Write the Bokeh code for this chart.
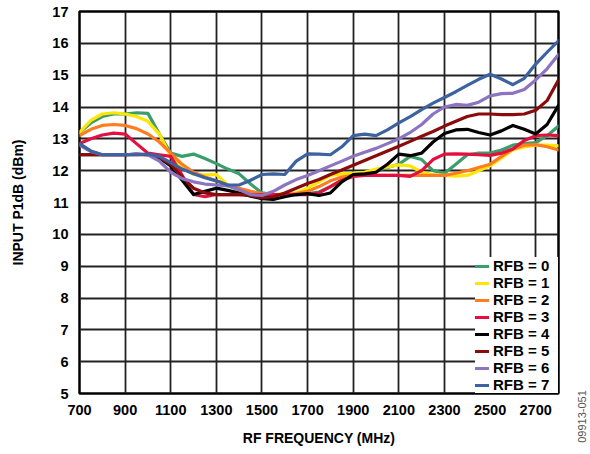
import math
from bokeh.plotting import figure
from bokeh.models import FixedTicker, Range1d, Legend, LegendItem, Label
from bokeh.embed import file_html
from bokeh.resources import INLINE

freq = [700, 750, 800, 850, 900, 950, 1000, 1050, 1100, 1150, 1200, 1250, 1300, 1350,
        1400, 1450, 1500, 1550, 1600, 1650, 1700, 1750, 1800, 1850, 1900, 1950, 2000,
        2050, 2100, 2150, 2200, 2250, 2300, 2350, 2400, 2450, 2500, 2550, 2600, 2650,
        2700, 2750, 2800]

rfb0 = [13.2, 13.5, 13.7, 13.78, 13.78, 13.82, 13.8, 13.15, 12.55, 12.45, 12.52, 12.38, 12.22, 12.05,
        11.9, 11.58, 11.3, 11.25, 11.25, 11.25, 11.28, 11.33, 11.5, 11.7, 11.85, 11.93, 12.0,
        12.1, 12.2, 12.45, 12.35, 12.0, 11.92, 12.2, 12.5, 12.55, 12.55, 12.65, 12.8, 12.85,
        12.88, 13.1, 13.4]
rfb1 = [13.2, 13.58, 13.78, 13.82, 13.78, 13.7, 13.55, 13.15, 12.45, 12.1, 11.88, 11.87, 11.88, 11.55,
        11.38, 11.28, 11.25, 11.25, 11.28, 11.3, 11.45, 11.65, 11.85, 11.9, 11.92, 11.95, 12.05,
        12.12, 12.18, 12.15, 11.95, 11.88, 11.85, 11.83, 11.85, 12.0, 12.15, 12.4, 12.65, 12.75,
        12.8, 12.8, 12.78]
rfb2 = [13.1, 13.3, 13.42, 13.45, 13.42, 13.32, 13.15, 12.9, 12.55, 12.2, 11.95, 11.8, 11.68, 11.55,
        11.45, 11.35, 11.28, 11.25, 11.25, 11.28, 11.35, 11.5, 11.68, 11.8, 11.85, 11.85, 11.85,
        11.85, 11.85, 11.85, 11.85, 11.85, 11.85, 11.92, 12.0, 12.1, 12.2, 12.45, 12.68, 12.8,
        12.82, 12.75, 12.65]
rfb3 = [12.85, 13.0, 13.12, 13.18, 13.15, 12.85, 12.55, 12.5, 12.45, 11.85, 11.25, 11.18, 11.25, 11.25,
        11.25, 11.25, 11.25, 11.25, 11.25, 11.25, 11.25, 11.3, 11.5, 11.7, 11.82, 11.85, 11.85,
        11.85, 11.85, 11.82, 12.0, 12.35, 12.52, 12.53, 12.52, 12.5, 12.48, 12.55, 12.68, 12.95,
        13.1, 13.12, 13.1]
rfb4 = [12.5, 12.5, 12.5, 12.5, 12.5, 12.52, 12.5, 12.4, 12.15, 11.7, 11.25, 11.35, 11.45, 11.38,
        11.3, 11.2, 11.12, 11.1, 11.18, 11.25, 11.28, 11.22, 11.3, 11.65, 11.88, 11.9, 11.95,
        12.2, 12.52, 12.47, 12.55, 12.9, 13.17, 13.28, 13.3, 13.2, 13.12, 13.25, 13.42, 13.3,
        13.15, 13.45, 14.05]
rfb5 = [12.5, 12.5, 12.5, 12.5, 12.5, 12.5, 12.5, 12.42, 12.2, 11.8, 11.45, 11.3, 11.25, 11.25,
        11.25, 11.22, 11.15, 11.18, 11.3, 11.45, 11.6, 11.72, 11.88, 12.02, 12.17, 12.32, 12.47,
        12.62, 12.77, 12.92, 13.08, 13.23, 13.4, 13.55, 13.7, 13.78, 13.78, 13.76, 13.76, 13.78,
        13.9, 14.2, 14.85]
rfb6 = [12.8, 12.6, 12.5, 12.5, 12.5, 12.52, 12.5, 12.3, 11.95, 11.75, 11.65, 11.58, 11.55, 11.52,
        11.4, 11.25, 11.22, 11.35, 11.55, 11.72, 11.85, 12.0, 12.15, 12.3, 12.45, 12.58, 12.7,
        12.85, 13.0, 13.2, 13.45, 13.78, 14.0, 14.08, 14.05, 14.15, 14.35, 14.42, 14.43, 14.55,
        14.85, 15.2, 15.65]
rfb7 = [12.85, 12.62, 12.5, 12.5, 12.5, 12.5, 12.52, 12.45, 12.25, 12.05, 11.9, 11.78, 11.68, 11.55,
        11.55, 11.7, 11.88, 11.9, 11.88, 12.3, 12.53, 12.52, 12.5, 12.75, 13.1, 13.15, 13.1,
        13.28, 13.5, 13.7, 13.92, 14.12, 14.3, 14.48, 14.68, 14.87, 15.03, 14.88, 14.7, 14.9,
        15.35, 15.72, 16.08]

series_labels = ["RFB = 0", "RFB = 1", "RFB = 2", "RFB = 3", "RFB = 4", "RFB = 5", "RFB = 6", "RFB = 7"]
series_values = [rfb0, rfb1, rfb2, rfb3, rfb4, rfb5, rfb6, rfb7]
colors = ["#399E6A", "#FFE600", "#FF7C1F", "#E3103F", "#000000", "#8A0B0B", "#8C74C0", "#3D62A0"]

x_ticks = [700, 900, 1100, 1300, 1500, 1700, 1900, 2100, 2300, 2500, 2700]
y_ticks = list(range(5, 18))
figure_id = "09913-051"

FONT = "Liberation Sans"

p = figure(width=590, height=450, output_backend="svg", toolbar_location=None,
           x_range=Range1d(700, 2800), y_range=Range1d(5, 17),
           min_border_left=79, min_border_right=32, min_border_top=11, min_border_bottom=57)

p.background_fill_color = "white"
p.border_fill_color = "white"
p.outline_line_color = "black"
p.outline_line_width = 2.5

for ax, ticks in ((p.xaxis, x_ticks), (p.yaxis, y_ticks)):
    ax.ticker = FixedTicker(ticks=ticks)
    ax.major_tick_in = 0
    ax.major_tick_out = 0
    ax.minor_tick_in = 0
    ax.minor_tick_out = 0
    ax.axis_line_color = None
    ax.major_label_text_font = FONT
    ax.major_label_text_font_style = "bold"
    ax.major_label_text_font_size = "14.5px"
    ax.major_label_text_color = "black"
    ax.axis_label_text_font = FONT
    ax.axis_label_text_font_style = "bold"
    ax.axis_label_text_font_size = "14px"
    ax.axis_label_text_color = "black"

p.xaxis.axis_label = "RF FREQUENCY (MHz)"
p.yaxis.axis_label = "INPUT P1dB (dBm)"
p.xaxis.major_label_standoff = 11
p.xaxis.axis_label_standoff = 12
p.yaxis.major_label_standoff = 11
p.yaxis.axis_label_standoff = 23

p.xgrid.ticker = FixedTicker(ticks=x_ticks)
p.ygrid.ticker = FixedTicker(ticks=y_ticks)
for g in (p.xgrid, p.ygrid):
    g.grid_line_color = "#222222"
    g.grid_line_width = 1.8

items = []
for lab, vals, col in zip(series_labels, series_values, colors):
    r = p.line(freq, vals, line_color=col, line_width=3.2, line_join="round", line_cap="round")
    items.append(LegendItem(label=lab, renderers=[r]))

legend = Legend(items=items, location="bottom_right")
legend.border_line_color = None
legend.background_fill_color = "white"
legend.background_fill_alpha = 1.0
legend.label_text_font = FONT
legend.label_text_font_style = "bold"
legend.label_text_font_size = "15px"
legend.label_text_color = "black"
legend.glyph_width = 14
legend.glyph_height = 14
legend.label_height = 14
legend.label_width = 65
legend.label_standoff = 4
legend.spacing = 0
legend.padding = 3
legend.margin = 0
p.add_layout(legend)

# figure number, placed in the right side panel so it is not clipped to the frame
p.add_layout(Label(x=2905, y=3.45, text=figure_id, angle=math.pi / 2,
                   text_align="left", text_baseline="middle",
                   text_font=FONT, text_font_size="11px", text_color="#555555"), "right")

open("out.html", "w").write(file_html(p, INLINE))
